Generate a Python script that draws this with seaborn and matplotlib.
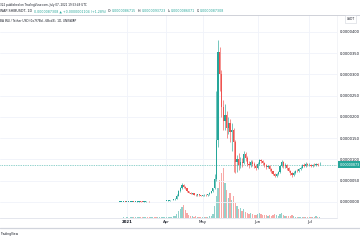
import numpy as np
import pandas as pd
import matplotlib
matplotlib.use("Agg")
import matplotlib.pyplot as plt
import matplotlib.patches as mpatches
import seaborn as sns

# ---------------- data (prices in units of 1e-6 USDT) ----------------
opens = [0.03, 0.03, 0.03, 0.04,
         0.03, 0.04, 0.05, 0.06, 0.08, 0.07, 0.09, 0.10, 0.12, 0.10, 0.09, 0.11, 0.14, 0.13, 0.12, 0.15, 0.17, 0.16, 0.14, 0.15, 0.18, 0.20, 0.22,
         0.25, 0.30, 0.35, 0.45, 0.50, 0.60, 0.80, 1.50, 2.60, 3.20, 4.00, 3.60, 3.20, 2.60, 2.20, 1.90, 2.00, 1.70, 1.60, 1.80, 1.60,
         1.50, 1.60, 1.70, 1.60, 1.80, 2.20, 2.50, 3.20, 5.50, 14.5, 35.3, 30.0, 22.4, 19.0, 20.5, 17.5, 18.5, 16.5, 17.0, 14.0, 9.5, 10.2, 8.8, 9.5, 9.2, 11.2, 10.3, 9.0, 8.6, 9.4, 9.0, 8.4,
         8.1, 9.0, 9.8, 9.6, 9.2, 8.6, 8.2, 8.5, 7.8, 7.2, 6.7, 6.2, 6.6, 7.1, 8.4, 9.3, 8.4, 8.7, 8.0, 7.4, 6.8, 6.3, 6.9, 7.4, 7.2, 7.8, 8.1, 8.7, 8.5, 8.9,
         8.6, 8.8, 8.5, 8.7, 8.6, 8.9, 8.6715]
closes = [0.03, 0.03, 0.04, 0.03,
          0.04, 0.05, 0.06, 0.08, 0.07, 0.09, 0.10, 0.12, 0.10, 0.09, 0.11, 0.14, 0.13, 0.12, 0.15, 0.17, 0.16, 0.14, 0.15, 0.18, 0.20, 0.22, 0.25,
          0.30, 0.35, 0.45, 0.50, 0.60, 0.80, 1.50, 2.60, 3.20, 4.00, 3.60, 3.20, 2.60, 2.20, 1.90, 2.00, 1.70, 1.60, 1.80, 1.60, 1.50,
          1.60, 1.70, 1.60, 1.80, 2.20, 2.50, 3.20, 5.50, 14.5, 35.3, 30.0, 22.4, 19.0, 20.5, 17.5, 18.5, 16.5, 17.0, 14.0, 9.5, 10.2, 8.8, 9.5, 9.2, 11.2, 10.3, 9.0, 8.6, 9.4, 9.0, 8.4, 8.1,
          9.0, 9.8, 9.6, 9.2, 8.6, 8.2, 8.5, 7.8, 7.2, 6.7, 6.2, 6.6, 7.1, 8.4, 9.3, 8.4, 8.7, 8.0, 7.4, 6.8, 6.3, 6.9, 7.4, 7.2, 7.8, 8.1, 8.7, 8.5, 8.9, 8.6,
          8.8, 8.5, 8.7, 8.6, 8.9, 8.6204, 8.7308]
highs = [0.04, 0.04, 0.05, 0.05,
         0.05, 0.06, 0.08, 0.10, 0.09, 0.11, 0.12, 0.14, 0.13, 0.11, 0.13, 0.16, 0.15, 0.14, 0.17, 0.19, 0.18, 0.17, 0.17, 0.20, 0.23, 0.25, 0.29,
         0.34, 0.40, 0.50, 0.56, 0.68, 0.95, 1.8, 2.9, 3.5, 4.4, 4.2, 3.7, 3.3, 2.7, 2.3, 2.2, 2.1, 1.8, 1.9, 1.9, 1.7,
         1.7, 1.8, 1.8, 1.9, 2.3, 2.7, 3.4, 6.5, 26.0, 38.0, 36.5, 31.0, 24.0, 23.0, 21.5, 20.0, 19.5, 18.5, 17.5, 14.5, 11.0, 11.5, 10.5, 10.3, 12.0, 11.8, 10.8, 9.6, 9.9, 9.8, 9.3, 8.9,
         9.4, 10.2, 10.1, 9.9, 9.4, 8.9, 8.8, 8.7, 8.0, 7.4, 6.9, 6.9, 7.3, 8.8, 9.9, 9.6, 9.1, 8.9, 8.2, 7.6, 7.0, 7.2, 7.6, 7.7, 8.0, 8.4, 9.0, 9.1, 9.4, 9.2,
         9.2, 9.0, 9.0, 9.1, 9.2, 9.1, 9.3723]
lows = [0.02, 0.02, 0.03, 0.02,
        0.03, 0.04, 0.05, 0.06, 0.06, 0.07, 0.08, 0.10, 0.09, 0.08, 0.09, 0.11, 0.12, 0.11, 0.12, 0.15, 0.14, 0.13, 0.13, 0.15, 0.17, 0.19, 0.21,
        0.24, 0.29, 0.33, 0.42, 0.47, 0.55, 0.75, 1.4, 2.4, 3.0, 3.3, 3.0, 2.4, 2.0, 1.8, 1.8, 1.6, 1.5, 1.5, 1.5, 1.4,
        1.4, 1.5, 1.5, 1.5, 1.7, 2.1, 2.4, 3.0, 5.0, 13.0, 26.0, 20.0, 17.0, 17.0, 15.0, 16.0, 14.0, 12.0, 7.0, 6.8, 7.0, 7.5, 8.0, 8.3, 9.0, 9.6, 8.4, 8.0, 8.2, 8.5, 8.0, 7.6,
        7.8, 8.8, 9.2, 8.8, 8.3, 7.8, 7.9, 7.4, 6.8, 6.3, 5.9, 5.9, 6.4, 6.9, 8.2, 8.1, 8.0, 7.6, 7.0, 6.3, 5.9, 6.1, 6.7, 7.0, 7.0, 7.6, 7.9, 8.2, 8.3, 8.4,
        8.4, 8.2, 8.3, 8.4, 8.4, 8.5, 8.6071]
volume = [0.5, 0.5, 0.6, 0.5,
          0.6, 0.5, 0.7, 0.8, 0.6, 0.7, 0.9, 1.0, 0.7, 0.6, 0.8, 1.0, 0.8, 0.7, 0.9, 1.1, 0.9, 0.8, 0.9, 1.0, 1.2, 1.1, 1.3,
          1.2, 1.0, 1.4, 1.5, 1.8, 2.5, 4.0, 7.0, 9.0, 11.0, 13.0, 8.0, 5.0, 3.0, 2.0, 1.8, 1.5, 2.0, 1.5, 1.2, 1.0,
          1.0, 1.2, 1.0, 1.5, 2.0, 2.5, 4.0, 12.0, 22.0, 30.0, 38.0, 45.0, 50.0, 35.0, 28.0, 20.0, 25.0, 18.0, 22.0, 15.0, 12.0, 9.0, 10.0, 7.0, 9.0, 6.0, 5.0, 4.0, 5.0, 4.0, 3.0, 3.0,
          4.0, 5.0, 4.0, 3.0, 3.0, 3.0, 2.0, 3.0, 2.0, 3.0, 4.0, 3.0, 2.0, 4.0, 5.0, 3.0, 2.0, 2.0, 2.0, 2.0, 3.0, 2.0, 1.5, 1.5, 1.2, 1.2, 1.5, 1.2, 1.0, 1.2,
          1.5, 1.2, 1.0, 1.2, 1.8, 1.2, 1.0]
month_labels = ["2021", "Apr", "May", "Jun", "Jul"]
month_bar = [4, 27, 48, 80, 110]
price_ticks = [0, 5, 10, 15, 20, 25, 30, 35, 40]
last_price = 8.7308

UP, DOWN = "#26a69a", "#ef5350"
UP_V, DOWN_V = "#92d2cc", "#f7a9a7"
TXT = "#131722"
GRID = "#f0f3fa"

sns.set_theme(style="white")
plt.rcParams["font.family"] = ["DejaVu Sans"]

W, H = 360, 240
fig = plt.figure(figsize=(3.6, 2.4), dpi=100)
fig.patch.set_facecolor("white")

def fx(px):
    return px / W

def fy(py):
    return 1 - py / H

ax_v = fig.add_axes([0, fy(218), 337 / W, 203 / H])
ax = ax_v.twinx()

bars = np.arange(len(closes))
direction = ["up" if c >= o else "down" for o, c in zip(opens, closes)]
df = pd.DataFrame({"bar": bars, "volume": volume, "dir": direction})

sns.barplot(data=df, x="bar", y="volume", hue="dir", hue_order=["up", "down"],
            palette={"up": UP_V, "down": DOWN_V}, native_scale=True, dodge=False,
            width=0.75, errorbar=None, saturation=1, legend=False, linewidth=0, ax=ax_v)

# candles
for i, (o, h, l, c) in enumerate(zip(opens, highs, lows, closes)):
    col = UP if c >= o else DOWN
    ax.vlines(i, l, h, colors=col, lw=0.45, zorder=3)
    body = max(abs(c - o), 0.12)
    ax.bar(i, body, bottom=min(o, c), width=0.72, color=col, linewidth=0, zorder=4)

ax.axhline(last_price, color=UP, ls=(0, (1, 1.5)), lw=0.5, zorder=2)

xl = (-120 / 1.72, (337 - 120) / 1.72)
ax_v.set_xlim(*xl)
ax.set_xlim(*xl)
ax.set_ylim(-3.765, 44.0)
ax_v.set_ylim(0, 203)

# grids and ticks
ax.set_yticks(price_ticks)
ax.set_yticklabels([f"{v * 1e-6:.7f}" for v in price_ticks])
ax.yaxis.grid(True, color=GRID, lw=0.6)
ax.xaxis.grid(False)
ax.tick_params(axis="y", right=True, left=False, labelright=True, labelleft=False,
               length=0, pad=2.0, labelsize=2.6, labelcolor=TXT)
ax_v.set_xticks(month_bar)
ax_v.set_xticklabels(month_labels)
ax_v.xaxis.grid(True, color=GRID, lw=0.6)
ax_v.yaxis.grid(False)
ax_v.set_yticks([])
ax_v.tick_params(axis="x", length=0, pad=1.6, labelsize=2.8, labelcolor=TXT)
ax_v.get_xticklabels()[0].set_fontweight("bold")
ax_v.set_xlabel("")
ax_v.set_ylabel("")
ax.set_ylabel("")
ax_v.set_axisbelow(True)
ax.set_axisbelow(True)
for a in (ax, ax_v):
    for s in a.spines.values():
        s.set_visible(False)
ax_v.spines["bottom"].set_visible(True)
ax_v.spines["bottom"].set_color("#e0e3eb")
ax_v.spines["bottom"].set_linewidth(0.6)
ax.spines["right"].set_visible(True)
ax.spines["right"].set_color("#eef0f4")
ax.spines["right"].set_linewidth(0.5)

# price label box on the scale
py = 202 - last_price / (5 / 21.25)
fig.patches.append(mpatches.Rectangle((fx(337.5), fy(py + 3.6)), 22.5 / W, 7.2 / H,
                                      transform=fig.transFigure, color=UP, lw=0))
fig.text(fx(339.5), fy(py), "0.00000873", color="white", fontsize=2.4, va="center", ha="left")

# header
fig.text(fx(0), fy(5), "322 published on TradingView.com, July 07, 2021 19:53:49 UTC",
         fontsize=2.0, color=TXT, va="center", ha="left")
renderer = fig.canvas.get_renderer()
pieces = [("WAP:SHIBUSDT, 1D", TXT), ("0.0000087308 \u25b2 +0.0000001104 (+1.28%)", UP),
          ("O:", TXT), ("0.0000086715", UP), ("H:", TXT), ("0.0000093723", UP),
          ("L:", TXT), ("0.0000086071", UP), ("C:", TXT), ("0.0000087308", UP)]
x = 0.0
for k, (s, c) in enumerate(pieces):
    t = fig.text(fx(x), fy(11.5), s, fontsize=2.3, color=c, va="center", ha="left")
    bb = t.get_window_extent(renderer)
    gap = 0.3 if s.endswith(":") else 1.6
    x += bb.width + gap

fig.add_artist(plt.Line2D([0, 1], [fy(15), fy(15)], color="#c8cad2", lw=0.6))
fig.text(fx(0), fy(20.5), "BA INU / Tether USD (0x7f7Bd...6Bcd3), 1D, UNISWAP",
         fontsize=2.1, color=TXT, va="center", ha="left")
fig.text(fx(350.5), fy(19), "USDT", fontsize=2.2, color=TXT, va="center", ha="center",
         bbox=dict(boxstyle="square,pad=0.5", fc="white", ec="#d1d4dc", lw=0.4))

# footer
fig.add_artist(plt.Line2D([0, 1], [fy(227.5), fy(227.5)], color="#d1d4dc", lw=0.9))
fig.text(fx(0), fy(233.5), "TradingView", fontsize=2.2, color=TXT, va="center", ha="left")

fig.savefig("out.png", dpi=100)
